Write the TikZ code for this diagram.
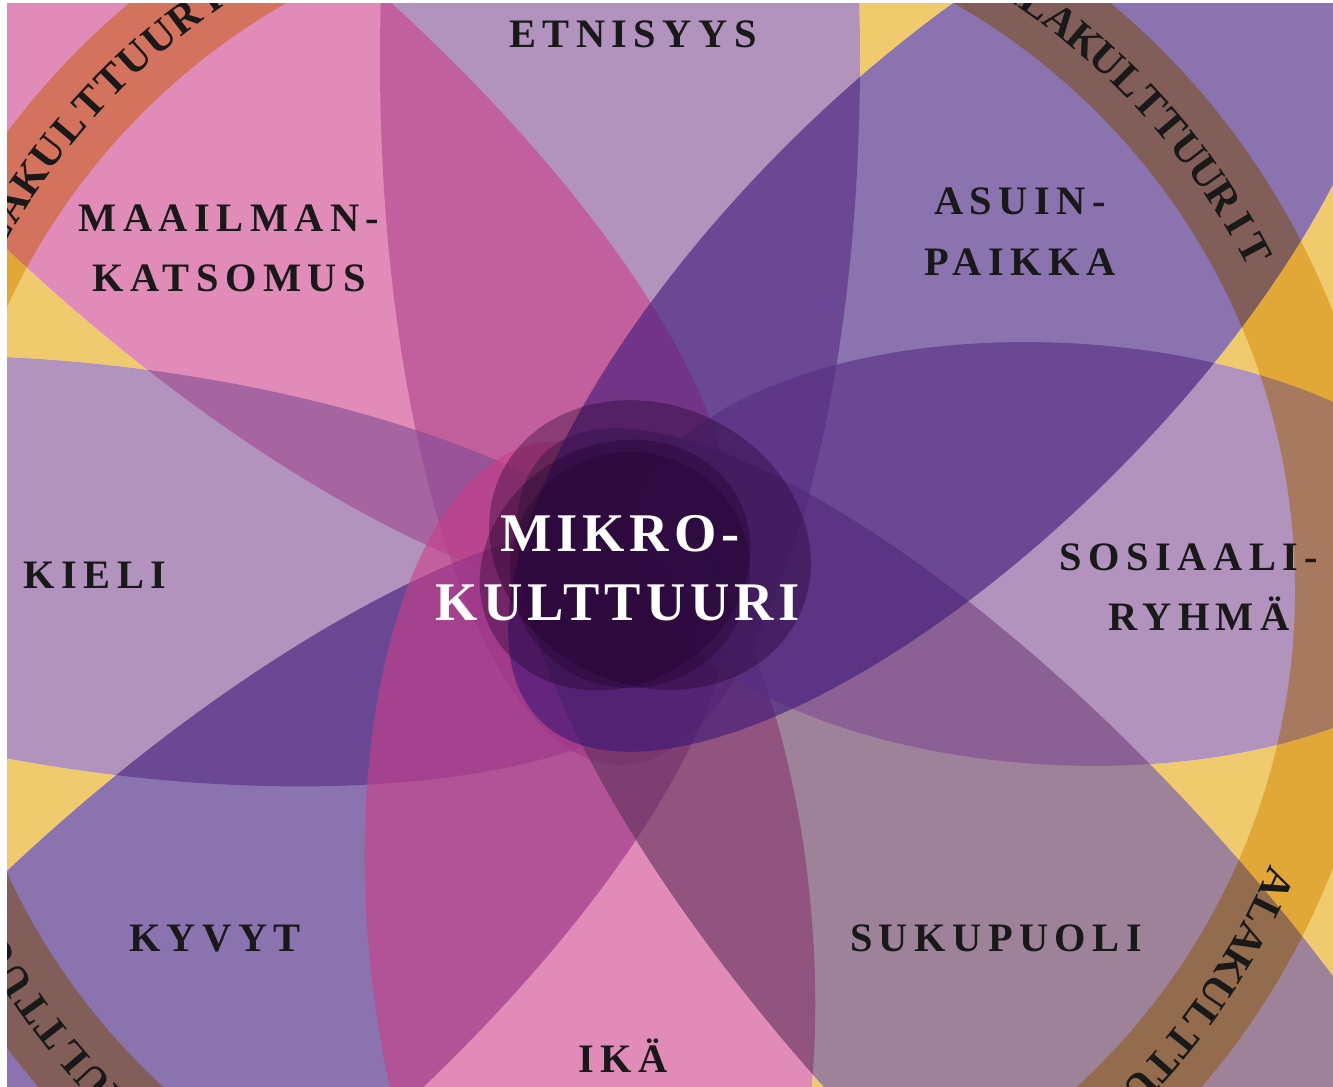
\documentclass[tikz,border=0pt]{standalone}
\usepackage{fontspec}
\setmainfont{Liberation Serif}
\newfontfamily\tagfont[LetterSpace=16]{Liberation Serif}
\newfontfamily\mikrofont[LetterSpace=9]{Liberation Serif}
\definecolor{bgyellow}{RGB}{240,203,110}
\definecolor{ringtone}{RGB}{240,212,130}
\definecolor{lilacpetal}{RGB}{128,75,147}
\definecolor{rosepetal}{RGB}{205,62,138}
\definecolor{violetpetal}{RGB}{60,23,120}
\definecolor{mauvepetal}{RGB}{93,48,88}
\definecolor{corecol}{RGB}{30,0,40}
\definecolor{ink}{RGB}{25,25,25}
\tikzset{
	petal/.style={fill=#1, fill opacity=0.6},
	band/.style={draw=ringtone, line width=1.8cm, blend mode=multiply},
	tagtext/.style={font=\tagfont\bfseries\fontsize{23}{23}\selectfont, text=ink, anchor=base, inner sep=0pt},
	mikrotext/.style={font=\mikrofont\bfseries\fontsize{31}{31}\selectfont, text=white, anchor=base, inner sep=0pt},
	ringletter/.style={font=\bfseries\fontsize{24}{24}\selectfont, text=ink, inner sep=0pt}
}
\begin{document}
\begin{tikzpicture}[x=0.02cm, y=-0.02cm]
	\useasboundingbox (0,0) rectangle (1333,1087);
	\fill[white] (0,0) rectangle (1333,1087);
	\begin{scope}
		\clip (7,4) rectangle (1333,1087);
		\fill[bgyellow] (0,0) rectangle (1333,1087);
		\foreach \cx/\cy/\rot/\ra/\rb/\col in {620/60/90/705/240/lilacpetal, 212/138/139/656/220/rosepetal, 120/571/-7.6/580/203/lilacpetal, 212/982/-139/656/220/violetpetal, 590/930/95/490/222/rosepetal, 1023/964/-47/700/230/mauvepetal, 1060/554/-3/430/211/lilacpetal, 950/310/45/580/232/violetpetal}
			\fill[white, shift={(\cx,\cy)}, rotate=\rot] (0,0) ellipse [x radius=\ra, y radius=\rb];
		\foreach \cx/\cy/\rot/\ra/\rb/\col in {620/60/90/705/240/lilacpetal, 212/138/139/656/220/rosepetal, 120/571/-7.6/580/203/lilacpetal, 212/982/-139/656/220/violetpetal, 590/930/95/490/222/rosepetal, 1023/964/-47/700/230/mauvepetal, 1060/554/-3/430/211/lilacpetal, 950/310/45/580/232/violetpetal}
			\fill[petal=\col, shift={(\cx,\cy)}, rotate=\rot] (0,0) ellipse [x radius=\ra, y radius=\rb];
		\draw[band] (620,590) circle [radius=720];
		\fill[corecol, fill opacity=0.35, rotate around={-25:(650,545)}] (650,545) ellipse [x radius=165, y radius=140];
		\fill[corecol, fill opacity=0.35, rotate around={30:(615,565)}] (615,565) ellipse [x radius=140, y radius=120];
		\fill[corecol, fill opacity=0.3] (630,570) ellipse [x radius=120, y radius=118];
		\foreach \st/\sp/\nm in {152.75/2.55/tl, 233.2/2.55/bl, 57.0/2.4/tr, -24.1/2.45/br}
			\foreach \ch [count=\i] in {A,L,A,K,U,L,T,T,U,U,R,I,T} {
				\pgfmathsetmacro\ang{\st-\sp*(\i-1)}
				\node[ringletter, rotate=\ang-90] (\nm\i) at ({620+720*cos(\ang)},{590-720*sin(\ang)}) {\ch};
			}
	\end{scope}
	\node[tagtext] (etn) at (633,48) {ETNISYYS};
	\node[tagtext] (maa1) at (229,232) {MAAILMAN-};
	\node[tagtext] (maa2) at (229,292) {KATSOMUS};
	\node[tagtext] (asu1) at (1020,215) {ASUIN-};
	\node[tagtext] (asu2) at (1020,276) {PAIKKA};
	\node[tagtext] (kie) at (95,589) {KIELI};
	\node[tagtext] (sos1) at (1189,571) {SOSIAALI-};
	\node[tagtext] (sos2) at (1199,631) {RYHMÄ};
	\node[tagtext] (kyv) at (215,951) {KYVYT};
	\node[tagtext] (suk) at (996,951) {SUKUPUOLI};
	\node[tagtext] (ika) at (623,1072) {IKÄ};
	\node[mikrotext] (mik1) at (620,552) {MIKRO-};
	\node[mikrotext] (mik2) at (618,621) {KULTTUURI};
\end{tikzpicture}
\end{document}
